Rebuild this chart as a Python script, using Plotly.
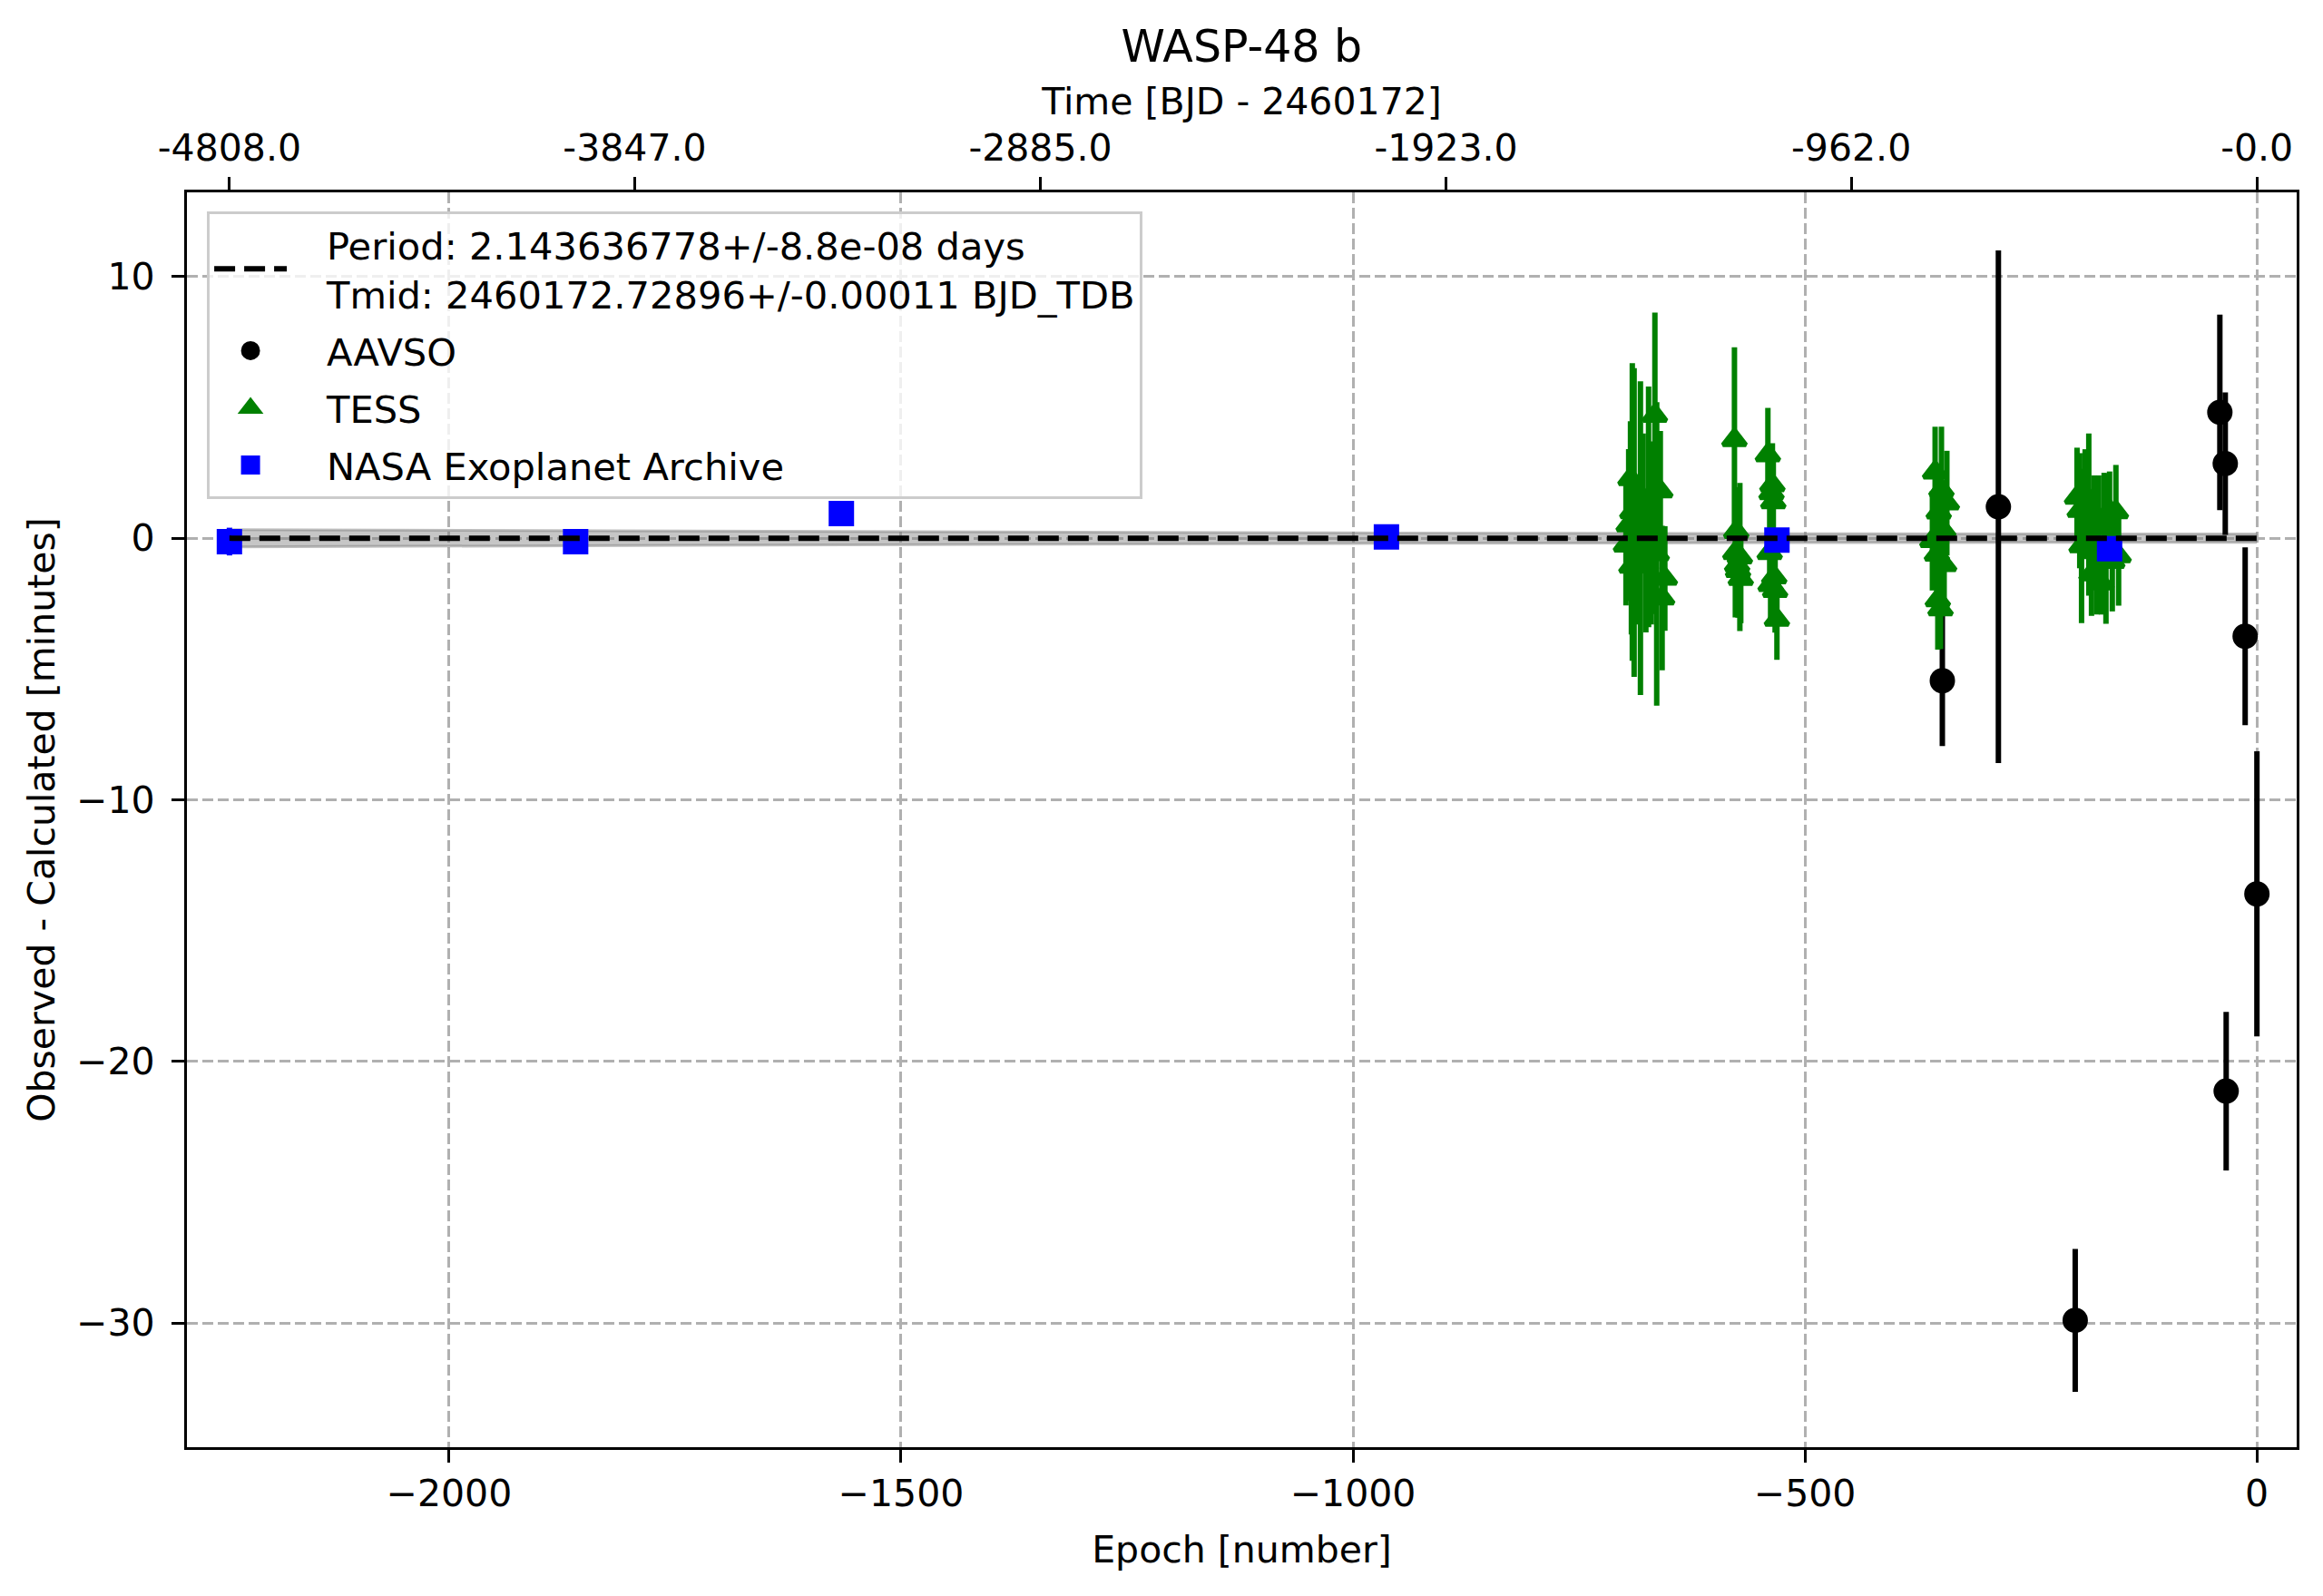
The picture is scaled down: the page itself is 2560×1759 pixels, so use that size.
import plotly.graph_objects as go

# Ephemeris
period = 2.143636778
period_text = "Period: 2.143636778+/-8.8e-08 days"
tmid_text = "Tmid: 2460172.72896+/-0.00011 BJD_TDB"

# AAVSO transits (epoch, O-C in minutes, error)
aavso_epoch = [-348, -286, -201, -41, -35, -34, -13, 0]
aavso_oc = [-5.45, 1.2, -29.9, 4.81, 2.85, -21.14, -3.75, -13.6]
aavso_err = [2.5, 9.8, 2.73, 3.74, 2.72, 3.03, 3.4, 5.45]

# TESS transits
tess_epoch = [-698, -695, -693, -692, -691, -689, -686, -682, -679, -676, -673, -670, -668, -666, -664, -660, -658, -655,
              -578, -577, -576, -575, -574, -572, -571,
              -541, -539, -538, -537, -536, -535, -534, -533, -531,
              -359, -356, -354, -353, -352, -350, -349, -347, -346, -343,
              -199, -196, -194, -190, -188, -186, -183, -180, -177, -175, -172, -169, -167, -163, -160, -156, -153]
tess_oc = [-0.27, 0.5, 2.27, -1.08, 1.0, 0.6, -0.5, 0.0, 1.5, -1.0, 1.2, -0.3, 0.4, 4.69, -0.6, 1.8, -2.29, -1.54,
           3.76, -0.56, 0.25, -1.03, -1.24, -0.72, -1.55,
           3.18, -0.56, -1.78, 1.73, 2.03, 1.38, -1.49, -2.01, -3.11,
           -0.1, 2.52, -0.62, -2.36, 0.99, -2.71, 1.84, 0.3, -1.02, 1.34,
           1.56, 1.05, -0.3, 1.3, 1.56, 0.9, -1.37, 0.4, -0.42, 0.5, -1.72, 0.7, -0.4, 1.05, -0.9, 1.0, -0.68]
tess_err = [2.3, 2.9, 2.2, 2.6, 5.69, 5.9, 2.8, 6.0, 2.5, 2.6, 4.6, 3.0, 3.3, 3.93, 5.8, 2.3, 2.76, 2.0,
            3.54, 2.47, 1.7, 1.9, 1.8, 2.83, 1.7,
            1.8, 1.7, 1.5, 1.5, 1.6, 1.7, 1.6, 1.6, 1.54,
            1.9, 1.74, 1.7, 1.9, 1.8, 1.53, 2.42, 1.7, 1.8, 2.0,
            1.9, 2.2, 2.95, 2.1, 1.8, 3.1, 1.6, 2.0, 2.5, 1.9, 1.2, 1.8, 2.87, 1.5, 1.9, 1.8, 1.9]

# NASA Exoplanet Archive
nasa_epoch = [-2243, -1860, -1566, -963, -531, -163]
nasa_oc = [-0.13, -0.13, 0.94, 0.05, -0.07, -0.40]
nasa_err = [0.53, 0.3, 0.3, 0.3, 0.2, 0.2]

# ephemeris uncertainty band (minutes)
band_epoch = [-2243, -1500, -1000, -500, 0]
band_sigma = [0.33, 0.25, 0.20, 0.17, 0.16]

# axis ticks
x_ticks = [-2000, -1500, -1000, -500, 0]
x_labels = ["\u22122000", "\u22121500", "\u22121000", "\u2212500", "0"]
y_ticks = [-30, -20, -10, 0, 10]
y_labels = ["\u221230", "\u221220", "\u221210", "0", "10"]
top_labels = ["-4808.0", "-3847.0", "-2885.0", "-1923.0", "-962.0", "-0.0"]
top_ticks = [float(t) / period for t in top_labels]

font = "DejaVu Sans"
pad = "\u00a0\u00a0\u2009\u200a"  # gap between legend symbol and text

fig = go.Figure()

# gray band round the linear ephemeris
fig.add_trace(go.Scatter(x=band_epoch, y=[-s for s in band_sigma], mode='lines',
                         line=dict(color='rgba(128,128,128,0.5)', width=3),
                         showlegend=False, hoverinfo='skip'))
fig.add_trace(go.Scatter(x=band_epoch, y=band_sigma, mode='lines', fill='tonexty',
                         fillcolor='rgba(128,128,128,0.45)',
                         line=dict(color='rgba(128,128,128,0.5)', width=3),
                         showlegend=False, hoverinfo='skip'))

fig.add_trace(go.Scatter(x=aavso_epoch, y=aavso_oc, mode='markers', name=pad + 'AAVSO',
                         legendrank=2, legendgroup='a',
                         marker=dict(symbol='circle', size=23, color='black', line=dict(width=5, color='black')),
                         error_y=dict(type='data', array=aavso_err, thickness=6, width=0, color='black')))
fig.add_trace(go.Scatter(x=tess_epoch, y=tess_oc, mode='markers', name=pad + 'TESS',
                         legendrank=3, legendgroup='t',
                         marker=dict(symbol='triangle-up', size=22, color='#008000', line=dict(width=5, color='#008000')),
                         error_y=dict(type='data', array=tess_err, thickness=6, width=0, color='#008000')))
fig.add_trace(go.Scatter(x=nasa_epoch, y=nasa_oc, mode='markers', name=pad + 'NASA Exoplanet Archive',
                         legendrank=4, legendgroup='n',
                         marker=dict(symbol='square', size=23, color='#0000ff', line=dict(width=5, color='#0000ff')),
                         error_y=dict(type='data', array=nasa_err, thickness=6, width=0, color='#0000ff')))

# linear ephemeris
fig.add_trace(go.Scatter(x=[band_epoch[0], band_epoch[-1]], y=[0, 0], mode='lines',
                         name=pad + period_text + "<br>" + pad + tmid_text, legendrank=1, legendgroup='e',
                         line=dict(color='black', width=6, dash='23px,10px')))

# dummy trace so the top axis is drawn
fig.add_trace(go.Scatter(x=top_ticks, y=[0] * len(top_ticks), xaxis='x2', mode='markers',
                         marker=dict(opacity=0), showlegend=False, hoverinfo='skip'))

axis_common = dict(
    showline=True, linecolor='black', linewidth=3.3,
    ticks='outside', ticklen=14, tickwidth=3.3, tickcolor='black',
    tickfont=dict(family=font, size=41, color='black'),
    zeroline=False,
)

# page body has an 8px margin, so margins are trimmed by 8px on the left/top
fig.update_layout(
    width=2560, height=1759,
    margin=dict(l=198, r=37, t=204, b=172),
    plot_bgcolor='white', paper_bgcolor='white',
    font=dict(family=font, size=41, color='black'),
    title=dict(text='WASP-48 b', x=0.5314, xanchor='center', y=1 - 43 / 1759, yanchor='middle',
               font=dict(family=font, size=49, color='black')),
    xaxis=dict(range=[-2290, 44], tickmode='array', tickvals=x_ticks, ticktext=x_labels,
               mirror=True, showgrid=True, gridcolor='#b0b0b0', gridwidth=3.3, griddash='12px,5px',
               ticklabelstandoff=-1,
               title=dict(text='Epoch [number]', font=dict(family=font, size=41), standoff=24),
               **axis_common),
    xaxis2=dict(range=[-2290, 44], overlaying='x', side='top', anchor='y', tickmode='array',
                tickvals=top_ticks, ticktext=top_labels, showgrid=False, ticklabelstandoff=1,
                title=dict(text='Time [BJD - 2460172]', font=dict(family=font, size=41), standoff=1),
                **axis_common),
    yaxis=dict(range=[-34.75, 13.22], tickmode='array', tickvals=y_ticks, ticktext=y_labels,
               mirror=True, showgrid=True, gridcolor='#b0b0b0', gridwidth=3.3, griddash='12px,5px',
               ticklabelstandoff=10,
               title=dict(text='Observed - Calculated [minutes]', font=dict(family=font, size=41), standoff=11),
               **axis_common),
    legend=dict(x=0.0095, y=0.985, xanchor='left', yanchor='top', traceorder='grouped',
                tracegroupgap=6,
                bgcolor='rgba(255,255,255,0.8)', bordercolor='#cccccc', borderwidth=3,
                font=dict(family=font, size=41.6, color='black'), itemwidth=80),
)

fig.write_html("out.html")
